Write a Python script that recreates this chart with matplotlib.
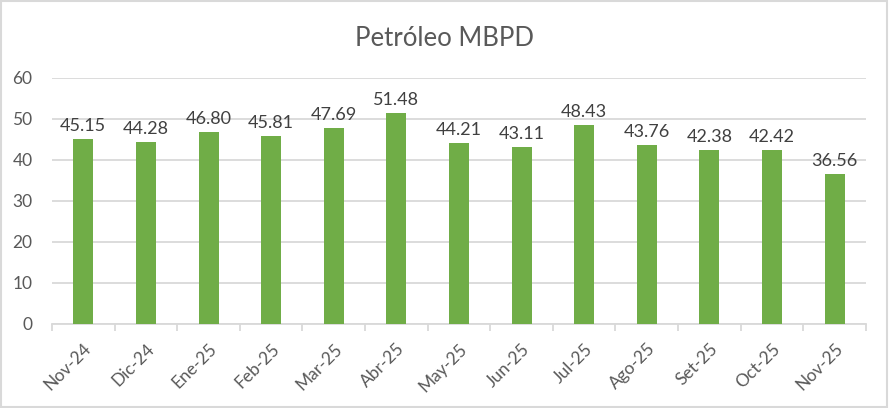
import matplotlib
matplotlib.use("Agg")
import matplotlib.pyplot as plt
from matplotlib.patches import Rectangle

categories = ["Nov-24", "Dic-24", "Ene-25", "Feb-25", "Mar-25", "Abr-25", "May-25",
              "Jun-25", "Jul-25", "Ago-25", "Set-25", "Oct-25", "Nov-25"]
values = [45.15, 44.28, 46.80, 45.81, 47.69, 51.48, 44.21, 43.11, 48.43, 43.76, 42.38, 42.42, 36.56]
yticks = [0, 10, 20, 30, 40, 50, 60]

plt.rcParams['font.family'] = ['Lato', 'DejaVu Sans']
txt = '#595959'
grid = '#d9d9d9'

fig = plt.figure(figsize=(8.89, 4.08), dpi=100)
ax = fig.add_axes([0.0585, 0.206, 0.9155, 0.603])
x = list(range(len(categories)))
ax.bar(x, values, width=0.32, color='#70ad47', zorder=3)
for xi, v in zip(x, values):
    ax.text(xi, v + 1.2, f"{v:.2f}", ha='center', va='bottom', fontsize=13, color='#404040', zorder=4)

ax.set_xlim(-0.5, len(categories) - 0.5)
ax.set_ylim(0, 60)
ax.set_yticks(yticks)
ax.set_yticklabels([str(t) for t in yticks], fontsize=12.5, color=txt)
ax.yaxis.grid(True, color=grid, linewidth=1.3, zorder=0)
ax.tick_params(axis='y', length=0, pad=14)
ax.set_xticks(x)
ax.set_xticklabels(categories, rotation=45, ha='right', rotation_mode='anchor', fontsize=12.5, color=txt)
ax.set_xticks([i - 0.5 for i in range(len(categories) + 1)], minor=True)
ax.tick_params(axis='x', which='major', length=0, pad=12)
ax.tick_params(axis='x', which='minor', length=5, color=grid, width=1.3)
for s in ['top', 'right', 'left']:
    ax.spines[s].set_visible(False)
ax.spines['bottom'].set_color(grid)
ax.spines['bottom'].set_linewidth(1.3)

fig.text(0.5, 0.905, "Petróleo MBPD", ha='center', va='center', fontsize=18.5, color=txt)
fig.patches.append(Rectangle((0.001, 0.002), 0.997, 0.995, transform=fig.transFigure,
                             fill=False, edgecolor=grid, linewidth=1.5))
fig.savefig("out.png", dpi=100)
